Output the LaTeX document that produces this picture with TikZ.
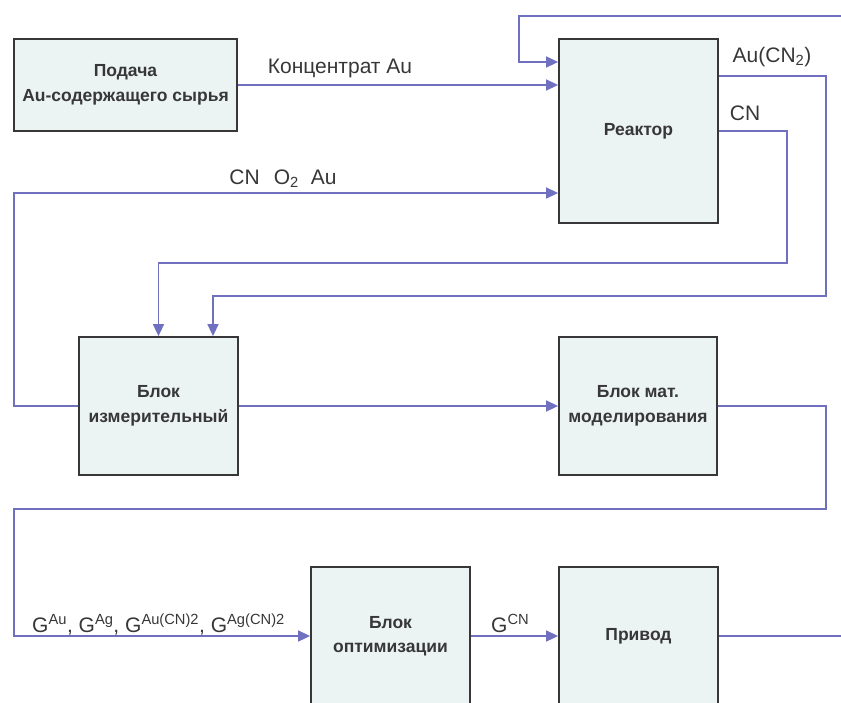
\documentclass[tikz,border=0pt]{standalone}
\usepackage{fontspec}
\setmainfont{Liberation Sans}
\usetikzlibrary{arrows.meta,calc}
\definecolor{lineblue}{RGB}{112,112,192}
\definecolor{boxfill}{RGB}{236,243,243}
\definecolor{boxline}{RGB}{55,55,55}
\definecolor{txt}{RGB}{55,55,55}
\tikzset{
 blk/.style={draw=boxline, line width=1.8pt, fill=boxfill, align=center,
   font=\fontsize{17.5}{24.5}\selectfont\bfseries, text=txt, inner sep=0pt},
 arr/.style={draw=lineblue, line width=1.6pt, -{Triangle[length=12pt,width=11pt]}},
 ln/.style={draw=lineblue, line width=1.6pt},
 lbl/.style={font=\fontsize{21}{24}\selectfont, text=txt, inner sep=0pt},
}
\begin{document}
\begin{tikzpicture}[x=1pt,y=-1pt]
\useasboundingbox (0,0) rectangle (841,702);
\clip (0,0) rectangle (841,702);
% blocks
\node[blk, minimum width=223pt, minimum height=92pt] (feed) at (125.5,85) {Подача\\Au-содержащего сырья};
\node[blk, minimum width=159pt, minimum height=184pt] (reactor) at (638.5,131) {Реактор};
\node[blk, minimum width=159pt, minimum height=138pt] (meas) at (158.5,406) {Блок\\измерительный};
\node[blk, minimum width=158pt, minimum height=138pt] (model) at (638,406) {Блок мат.\\моделирования};
\node[blk, minimum width=159pt, minimum height=138pt] (opt) at (390.5,636) {Блок\\оптимизации};
\node[blk, minimum width=159pt, minimum height=138pt] (drive) at (638.5,636) {Привод};
\coordinate (topR) at (843,16);
\coordinate (outR) at (843,636);
% connectors
\draw[arr] (feed.east) -- (feed.east -| reactor.west);
\draw[arr] (topR) -- (519,16) |- ($(reactor.west)+(0,-69)$);
\draw[arr] (meas.west) -- (14,406) |- ($(reactor.west)+(0,62)$);
\draw[arr] ($(reactor.east)+(0,-55)$) -- (826,76) -- (826,296) -| ($(meas.north)+(54.5,0)$);
\draw[arr] (reactor.east) -- (787,131) -- (787,263) -| (meas.north);
\draw[arr] (meas.east) -- (model.west);
\draw[arr] (model.east) -- (826,406) -- (826,509) -- (14,509) |- (opt.west);
\draw[arr] (opt.east) -- (drive.west);
\draw[ln] (drive.east) -- (outR);
% labels
\node[lbl] (l1) at (340,68) {Концентрат Au};
\node[lbl] (l2) at (283,179) {CN\hspace{14pt}O\textsubscript{2}\hspace{12pt}Au};
\node[lbl] (l3) at (772,57) {Au(CN\textsubscript{2})};
\node[lbl] (l4) at (745,113) {CN};
\node[lbl, anchor=base west] (l5) at (32,632) {G\textsuperscript{Au}, G\textsuperscript{Ag}, G\textsuperscript{Au(CN)2}, G\textsuperscript{Ag(CN)2}};
\node[lbl, anchor=base west] (l6) at (491,632) {G\textsuperscript{CN}};
\end{tikzpicture}
\end{document}
